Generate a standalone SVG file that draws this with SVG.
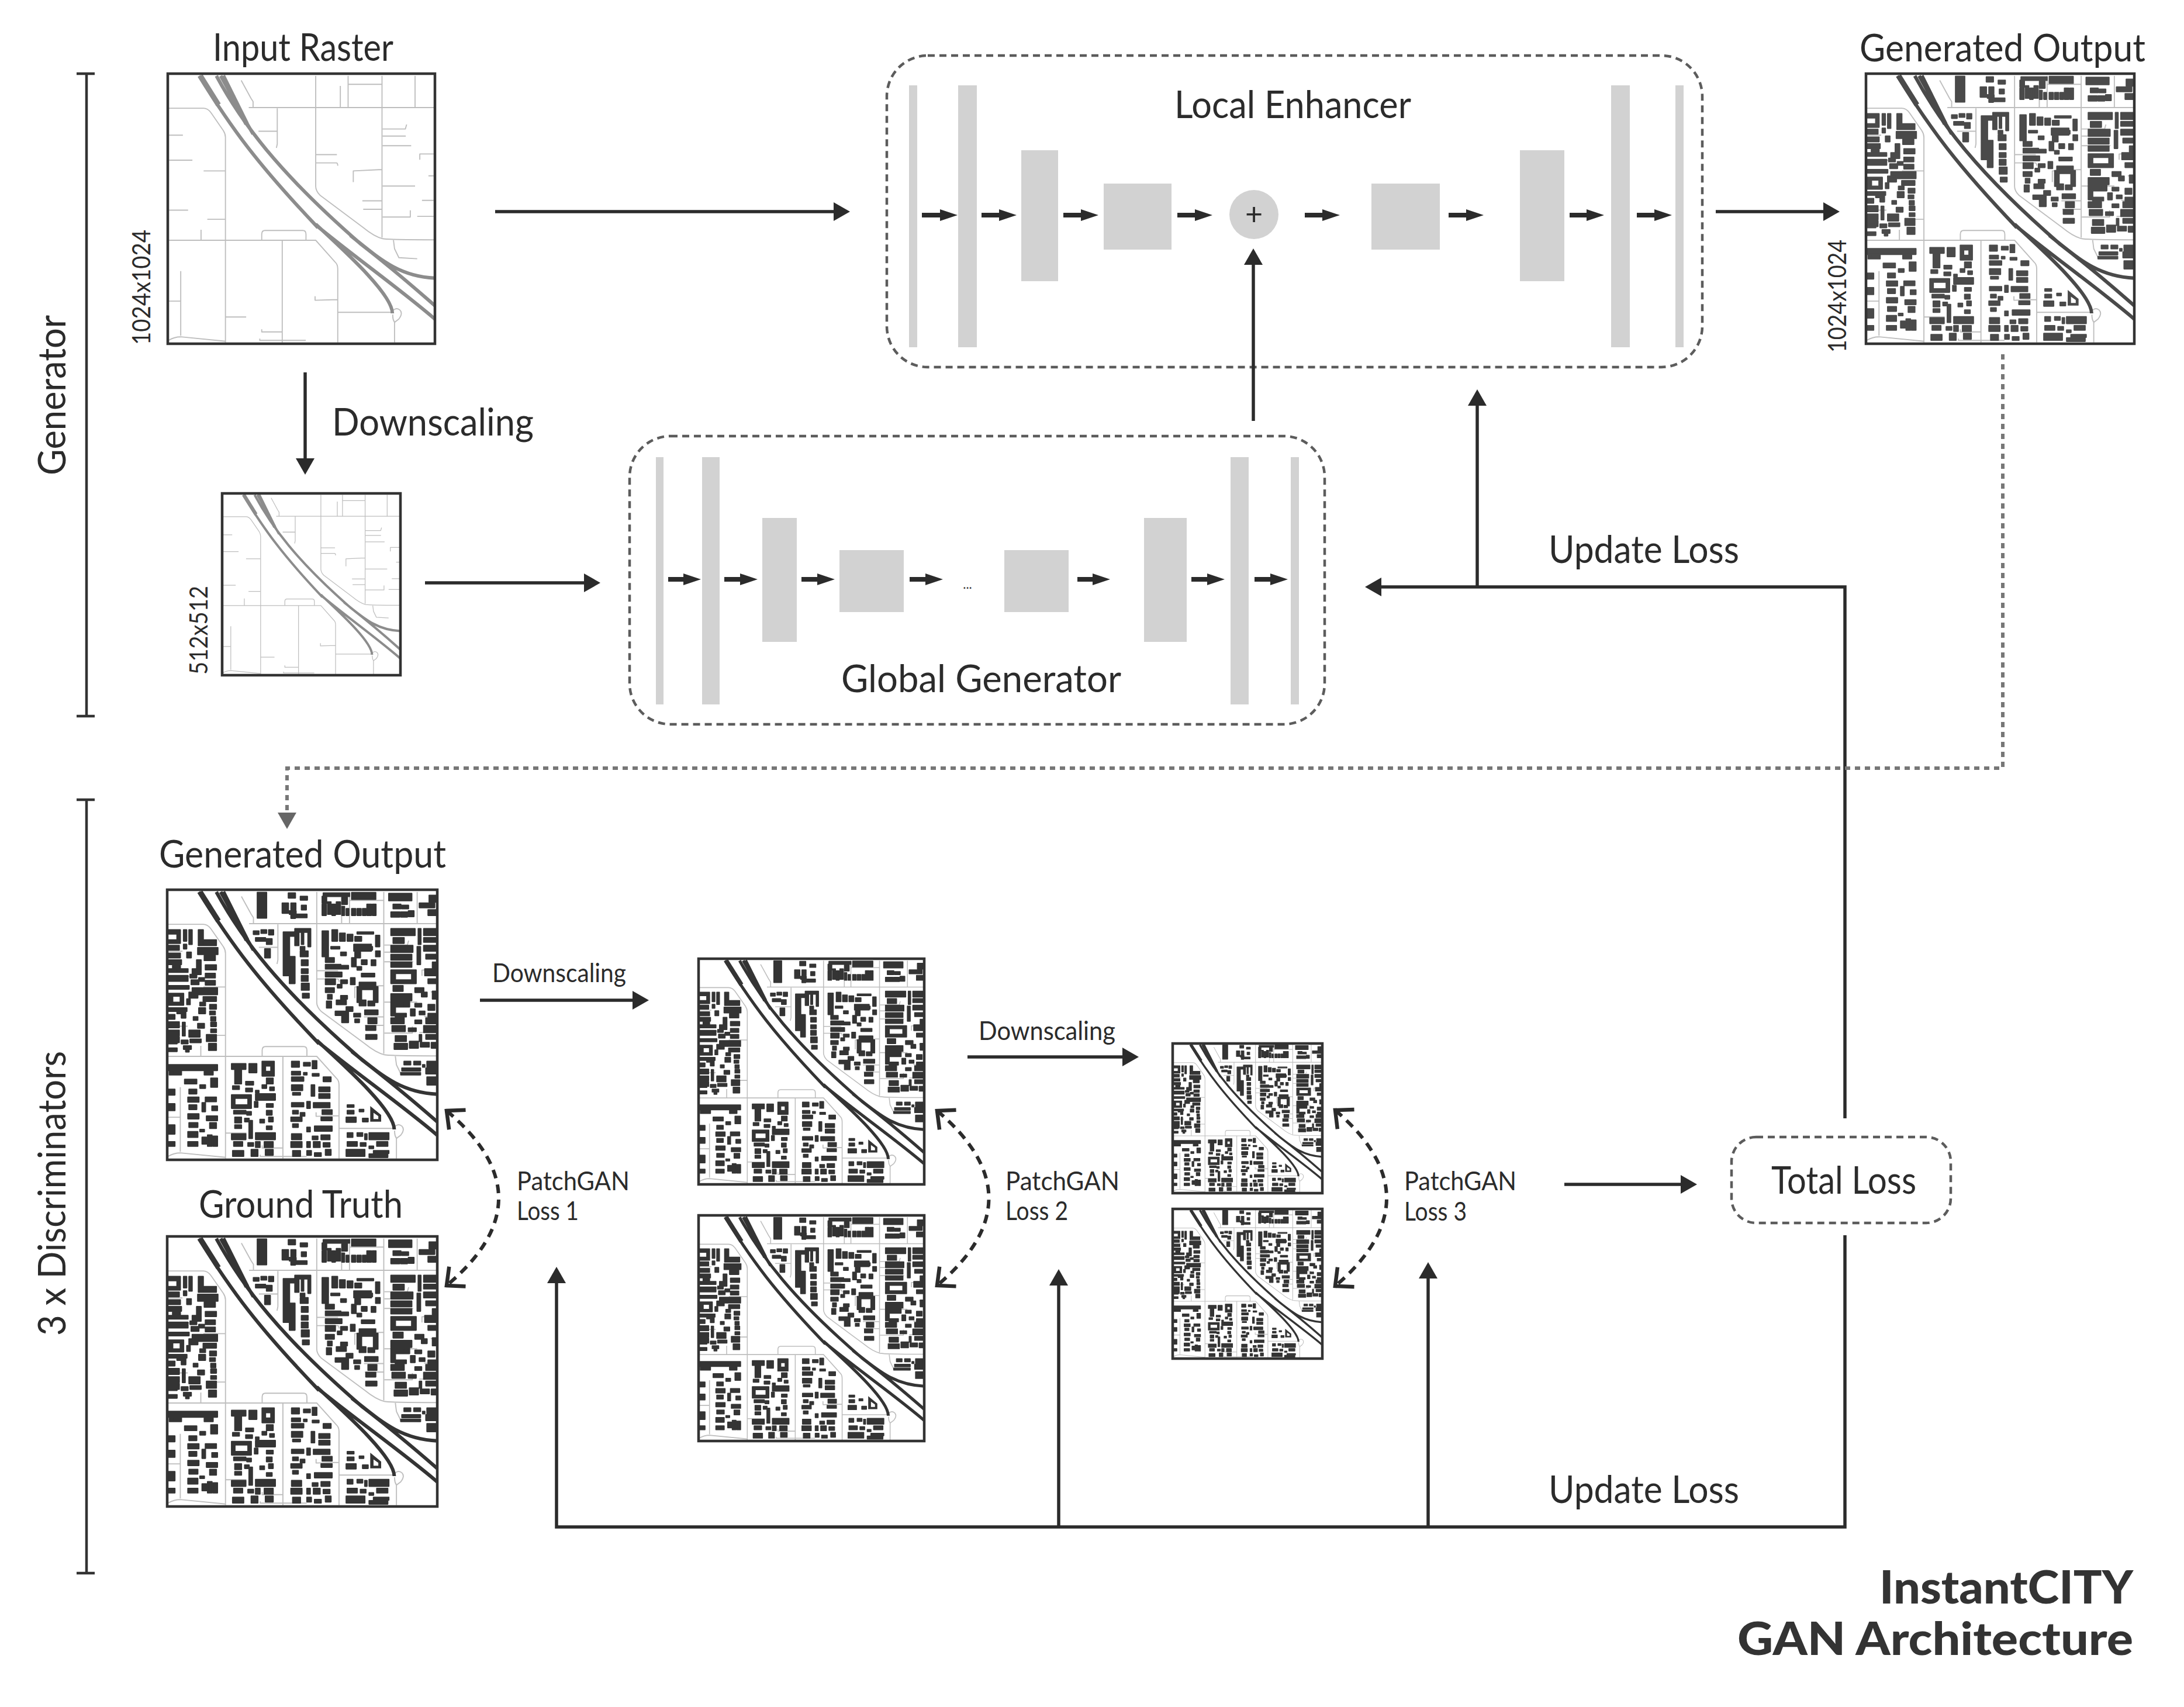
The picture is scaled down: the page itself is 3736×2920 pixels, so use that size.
<svg xmlns="http://www.w3.org/2000/svg" xmlns:xlink="http://www.w3.org/1999/xlink" width="3736" height="2920" viewBox="0 0 3736 2920">
<style>
text{font-family:"Lato","Liberation Sans",sans-serif;fill:#2b2b2b}
.t66{font-size:66px}.t42{font-size:42px}.t44{font-size:45px}
.b78{font-size:78px;font-weight:900;fill:#333}
.bar{fill:#d2d2d2}
.box{fill:none;stroke:#5c5c5c;stroke-width:4.5;stroke-dasharray:12 8}
.frame{fill:none;stroke:#333;stroke-width:4.5}
.rd{fill:none;stroke:#bebebe;stroke-width:5;stroke-linejoin:round}
.hw{fill:none;stroke:currentColor;stroke-width:16;stroke-linejoin:round}
.bd{fill:currentColor;stroke:currentColor;stroke-width:6;stroke-linejoin:round}
.sm{stroke:#2b2b2b;stroke-width:8;fill:none;marker-end:url(#mS)}
.lg{stroke:#2b2b2b;stroke-width:5.5;fill:none;marker-end:url(#mL)}
.gd{stroke:#777;stroke-width:6;stroke-dasharray:9 8;fill:none;marker-end:url(#mG)}
.cv{stroke:#2b2b2b;stroke-width:6;stroke-dasharray:15 11;fill:none;marker-start:url(#mC);marker-end:url(#mC)}
.br{stroke:#333;stroke-width:4.5;fill:none}
</style>
<defs>
<marker id="mS" markerUnits="userSpaceOnUse" viewBox="0 0 30 20" refX="15" refY="10" markerWidth="30" markerHeight="20" orient="auto"><path d="M0 0L30 10L0 20z" fill="#2b2b2b"/></marker>
<marker id="mL" markerUnits="userSpaceOnUse" viewBox="0 0 28 32" refX="14" refY="16" markerWidth="28" markerHeight="32" orient="auto"><path d="M0 0L28 16L0 32z" fill="#2b2b2b"/></marker>
<marker id="mG" markerUnits="userSpaceOnUse" viewBox="0 0 28 32" refX="14" refY="16" markerWidth="28" markerHeight="32" orient="auto"><path d="M0 0L28 16L0 32z" fill="#666"/></marker>
<marker id="mC" markerUnits="userSpaceOnUse" viewBox="-32 -32 40 64" refX="0" refY="0" markerWidth="40" markerHeight="64" orient="auto-start-reverse"><path d="M-24 -22L0 0L-24 22" fill="none" stroke="#2b2b2b" stroke-width="6.5"/></marker>
<g id="roadnet">
<path class="rd" d="M480 427H1342M445 305L490 385L500 400V427M790 285V780Q790 800 810 820L1010 965Q1060 1005 1100 1015Q1130 1020 1342 1020M940 285V427M1097 285V1010M1250 285V427M904 330V427M110 430H270Q290 430 305 450L362 530Q372 545 372 560V1480M110 1022H790L880 1120Q892 1130 892 1150V1480M540 1022V995Q540 978 555 978H730Q745 978 745 995V1022M635 1022V1480M165 1160V1450M110 1295H165M110 1470Q135 1455 165 1455L372 1475M1155 1385V1480M892 1345H1140M1150 1335Q1165 1322 1180 1335Q1195 1350 1175 1375L1155 1390Q1145 1375 1147 1355M1150 1022L1155 1060L1175 1100L1260 1105M111 551H175M111 663H219M271 711H372M111 887H199M288 928H372M259 975V1022M525 533H612M612 430V590L608 608M790 638H888M790 675H885Q892 675 892 688M964 761V711L1096 705M1006 845H1096M1010 883H1096M1100 523H1205L1211 503M1100 555H1207M1100 598H1232M1100 779H1250M1100 918H1228V888M1272 661V635H1336M1312 733H1336M1282 843H1336M1260 915H1336M940 323H1096M787 1273V1291L892 1288M372 1366H468M540 1421V1433H634M531 1463V1471H744"/>
<path class="hw" d="M250 285C400 520 520 680 800 965M790 950C900 1050 1145 1260 1145 1350M790 953C960 1090 1180 1240 1345 1378M330 285C450 500 620 720 1000 1040C1120 1130 1230 1220 1345 1318M950 1000C1080 1100 1170 1185 1345 1192M350 285C400 370 440 450 500 545"/>
<path class="hw" style="stroke-width:24" d="M256 285L340 415"/>
<path class="hw" style="stroke-width:22" d="M360 285L470 500"/>
</g>
<g id="blds">
<path class="bd" d="M518 287h42v115h-42zM660 290h32v22h-32zM715 305h32v16h-32zM632 335h28v45h-28zM672 335h22v30h-22zM720 345h22v20h-22zM665 370h30v15h-30zM695 385h50v15h-50zM672 385h20v18h-20zM815 305h20v30h-20zM815 340h18v50h-18zM840 330h15v55h-15zM860 340h15v50h-15zM880 330h18v55h-18zM905 350h12v40h-12zM925 360h12v30h-12zM950 360h18v30h-18zM975 360h18v30h-18zM1000 360h15v30h-15zM1020 340h20v50h-20zM1045 340h16v50h-16zM950 288h110v30h-110zM820 290h120v15h-120zM905 310h25v30h-25zM1120 292h105v32h-105zM1140 340h35v20h-35zM1130 375h40v22h-40zM1175 375h30v22h-30zM1210 370h25v25h-25zM1180 345h30v15h-30zM1260 335h70v20h-70zM1305 300h35v30h-35zM1300 365h40v25h-40z"/>
<path class="bd" d="M110 455h55v18h-55zM150 455h15v60h-15zM110 500h55v15h-55zM180 455h14v50h-14zM205 455h14v65h-14zM248 455h22v70h-22zM270 500h60v25h-60zM245 535h92v30h-92zM110 525h50v20h-50zM180 520h14v20h-14zM110 560h55v20h-55zM195 555h20v25h-20zM275 570h50v22h-50zM110 590h60v20h-60zM130 615h35v15h-35zM280 612h50v22h-50zM110 630h40v15h-40zM150 630h50v15h-50zM240 590h20v40h-20zM220 630h40v25h-40zM280 650h45v20h-45zM110 660h90v25h-90zM210 655h30v15h-30zM250 670h25v15h-25zM280 682h45v20h-45zM110 705h95v15h-95zM215 680h35v20h-35zM220 715h115v30h-115zM205 735h40v25h-40zM110 740h70v12h-70zM110 780h70v12h-70zM165 740h15v50h-15zM110 752h20v30h-20zM270 755h60v20h-60zM195 765h15v25h-15zM255 780h25v15h-25zM300 790h30v20h-30zM110 805h85v15h-85zM150 820h40v10h-40zM250 805h30v25h-30zM300 820h25v15h-25zM110 835h30v20h-30zM170 825h20v25h-20zM225 845h20v15h-20zM305 845h22v18h-22zM110 868h50v25h-50zM110 905h50v25h-50zM110 935h50v25h-50zM175 870h12v60h-12zM245 875h30v20h-30zM305 870h25v18h-25zM205 905h50v30h-50zM305 900h25v15h-25zM285 925h45v30h-45zM110 950h40v15h-40zM170 950h30v15h-30zM210 945h50v15h-50zM110 985h40v15h-40zM180 975h35v15h-35zM295 965h35v30h-35zM190 990h15v12h-15z"/>
<path class="bd" d="M110 1060h225v25h-225zM130 1085h40v20h-40zM115 1085h15v20h-15zM185 1125h55v20h-55zM275 1090h40v15h-40zM305 1120h30v40h-30zM255 1150h25v15h-25zM205 1170h35v20h-35zM110 1170h30v25h-30zM200 1205h50v22h-50zM280 1205h50v20h-50zM110 1235h30v30h-30zM205 1240h35v20h-35zM265 1230h15v40h-15zM310 1245h25v20h-25zM200 1280h50v22h-50zM285 1290h50v20h-50zM205 1320h40v20h-40zM300 1320h30v25h-30zM110 1330h30v40h-30zM255 1350h20v10h-20zM200 1360h45v25h-45zM290 1375h20v50h-20zM315 1380h20v45h-20zM110 1405h30v20h-30zM200 1405h45v20h-45zM265 1385h20v30h-20z"/>
<path class="bd" d="M400 1055h65v25h-65zM415 1080h30v65h-30zM480 1055h35v40h-35zM540 1045h55v20h-55zM540 1090h55v20h-55zM540 1065h15v25h-15zM580 1065h15v25h-15zM405 1155h30v15h-30zM465 1135h35v15h-35zM465 1165h30v15h-30zM510 1175h15v10h-15zM560 1120h30v25h-30zM540 1150h20v15h-20zM575 1160h20v15h-20zM400 1195h90v15h-90zM400 1240h90v15h-90zM400 1210h15v30h-15zM475 1210h15v30h-15zM510 1190h90v28h-90zM505 1225h15v25h-15zM560 1235h30v15h-30zM410 1265h55v15h-55zM470 1270h20v15h-20zM560 1265h25v20h-25zM415 1295h30v25h-30zM460 1300h20v15h-20zM480 1310h15v40h-15zM570 1295h20v20h-20zM530 1305h20v15h-20zM415 1330h30v15h-30zM480 1350h15v40h-15zM560 1335h25v15h-25zM400 1370h65v25h-65zM510 1365h90v30h-90zM410 1405h40v20h-40zM475 1410h25v15h-25zM510 1405h20v25h-20zM550 1405h40v25h-40zM405 1445h50v25h-50zM490 1440h30v30h-30zM555 1440h35v25h-35z"/>
<path class="bd" d="M675 1045h35v25h-35zM730 1050h30v15h-30zM770 1042h20v35h-20zM675 1090h40v15h-40zM730 1095h15v10h-15zM770 1100h30v10h-30zM820 1115h35v20h-35zM675 1115h55v18h-55zM675 1150h50v25h-50zM765 1150h15v50h-15zM800 1160h50v20h-50zM680 1185h35v10h-35zM800 1190h50v20h-50zM675 1230h55v18h-55zM745 1225h15v30h-15zM775 1230h75v22h-75zM680 1265h25v15h-25zM715 1275h20v15h-20zM815 1262h45v20h-45zM672 1295h50v18h-50zM810 1295h50v15h-50zM680 1325h25v15h-25zM780 1335h80v22h-80zM745 1340h15v20h-15zM675 1370h45v25h-45zM770 1380h25v15h-25zM810 1375h40v20h-40zM672 1405h50v25h-50zM745 1405h15v25h-15zM775 1405h30v25h-30zM820 1410h30v18h-30zM680 1445h35v25h-35zM745 1445h20v20h-20zM780 1455h30v15h-30zM830 1440h25v25h-25z"/>
<path class="bd" d="M930 1240h30v10h-30zM930 1265h30v15h-30zM925 1295h45v22h-45zM985 1260h20v10h-20zM1000 1300h25v15h-25zM930 1365h25v20h-25zM975 1365h25v15h-25zM1030 1365h90v30h-90zM1010 1370h10v25h-10zM930 1405h45v20h-45zM990 1410h25v15h-25zM1065 1405h50v20h-50zM925 1440h85v30h-85zM1030 1425h20v10h-20zM1050 1445h70v12h-70zM1030 1460h85v15h-85z"/>
<path style="fill:currentColor;fill-rule:evenodd" d="M1035 1245L1085 1285V1315H1035zM1050 1275V1303H1072V1290z"/>
<path class="bd" d="M500 460h25v15h-25zM535 455h25v15h-25zM570 455h22v22h-22zM510 490h45v15h-45zM560 495h25v25h-25zM552 540h25v40h-25zM637 465h50v18h-50zM637 480h28v100h-28zM637 580h25v80h-25zM665 575h25v120h-25zM690 450h18v75h-18zM710 450h50v15h-50zM720 465h10v55h-10zM750 450h12v80h-12zM715 530h20v15h-20zM715 550h35v25h-35zM720 590h30v25h-30zM720 630h30v20h-30zM720 660h30v25h-30zM720 695h35v30h-35zM725 740h30v20h-30z"/>
<path class="bd" d="M815 460h28v115h-28zM860 455h25v50h-25zM895 470h25v35h-25zM930 475h25v30h-25zM965 485h30v20h-30zM975 465h75v8h-75zM1060 480h18v50h-18zM855 530h40v10h-40zM900 555h25v15h-25zM960 520h80v30h-80zM965 555h25v25h-25zM1000 530h45v15h-45zM1060 550h20v25h-20zM830 580h40v20h-40zM950 580h20v40h-20zM995 590h25v20h-25zM1040 590h20v25h-20zM830 610h70v20h-70zM900 615h35v15h-35zM975 620h20v15h-20zM830 645h75v20h-75zM830 675h45v25h-45zM900 680h30v15h-30zM945 670h20v30h-20zM995 650h60v15h-60zM985 690h75v20h-75zM830 715h40v20h-40zM885 700h20v15h-20zM980 710h80v12h-80zM975 710h20v70h-20zM1050 710h20v70h-20zM840 745h20v20h-20zM835 775h22v30h-22zM880 770h45v20h-45zM900 750h30v15h-30zM925 800h30v20h-30zM985 770h30v25h-30zM1025 775h30v20h-30zM875 820h60v18h-60zM905 835h30v35h-30zM960 830h30v15h-30zM1010 815h60v20h-60zM1025 850h40v25h-40zM965 855h20v15h-20zM1015 885h45v20h-45zM1015 925h50v20h-50z"/>
<path class="bd" d="M1130 450h110v30h-110zM1280 450h60v30h-60zM1255 450h12v70h-12zM1140 490h50v25h-50zM1280 490h60v20h-60zM1130 525h100v30h-100zM1280 525h60v25h-60zM1130 565h95v25h-95zM1250 530h15v80h-15zM1130 600h95v22h-95zM1290 565h45v20h-45zM1320 600h20v25h-20zM1130 635h115v15h-115zM1130 680h115v15h-115zM1130 650h20v30h-20zM1225 650h20v30h-20zM1285 630h55v30h-55zM1300 675h40v20h-40zM1140 705h45v25h-45zM1240 715h40v20h-40zM1130 742h95v30h-95zM1130 775h85v25h-85zM1270 735h25v20h-25zM1320 730h20v35h-20zM1130 800h20v40h-20zM1150 830h50v15h-50zM1190 780h20v15h-20zM1240 785h30v15h-30zM1300 790h30v25h-30zM1220 810h20v30h-20zM1260 820h25v15h-25zM1300 830h35v15h-35zM1130 850h60v25h-60zM1290 850h50v25h-50zM1135 885h60v25h-60zM1240 860h30v15h-30zM1280 885h60v30h-60zM1210 895h35v15h-35zM1150 930h50v25h-50zM1260 925h10v30h-10zM1290 925h50v20h-50zM1145 965h60v25h-60zM1215 955h40v30h-40zM1265 960h40v20h-40zM1315 960h25v25h-25zM1190 1045h30v15h-30zM1235 1045h30v15h-30zM1180 1075h85v12h-85zM1175 1095h90v10h-90zM1295 1045h45v25h-45zM1290 1075h50v25h-50zM1295 1115h45v35h-45zM1275 1060h10v10h-10z"/>
</g>
<symbol id="mapIn" viewBox="105 275 1237 1211" preserveAspectRatio="none"><use href="#roadnet"/></symbol>
<symbol id="mapOut" viewBox="105 275 1237 1211" preserveAspectRatio="none"><use href="#roadnet"/><use href="#blds"/></symbol>
</defs>
<rect width="3736" height="2920" fill="#fff"/>

<g id="bracket-generator"><path class="br" d="M131 126H148V1225H131M148 126H162M148 1225H162"/><text class="t66" transform="translate(112 813) rotate(-90)" textLength="274" lengthAdjust="spacingAndGlyphs">Generator</text></g>
<g id="bracket-discriminators"><path class="br" d="M131 1368H148V2691H131M148 1368H162M148 2691H162"/><text class="t66" transform="translate(112 2285) rotate(-90)" textLength="487" lengthAdjust="spacingAndGlyphs">3 x Discriminators</text></g>

<g id="input-raster">
<text class="t66" x="364" y="104" textLength="309" lengthAdjust="spacingAndGlyphs">Input Raster</text>
<use href="#mapIn" x="287" y="126" width="457" height="462" color="#8c8c8c"/><rect class="frame" x="287" y="126" width="457" height="462"/>
<text class="t42" transform="translate(257 590) rotate(-90)" textLength="197" lengthAdjust="spacingAndGlyphs">1024x1024</text>
</g>
<g id="downscaled-input">
<use href="#mapIn" x="380" y="844" width="305" height="311" color="#8c8c8c"/><rect class="frame" x="380" y="844" width="305" height="311"/>
<text class="t42" transform="translate(355 1154) rotate(-90)" textLength="152" lengthAdjust="spacingAndGlyphs">512x512</text>
</g>
<g id="label-downscaling"><text class="t66" x="568" y="745" textLength="345" lengthAdjust="spacingAndGlyphs">Downscaling</text></g>

<g id="generated-output-top">
<text class="t66" x="3181" y="105" textLength="489" lengthAdjust="spacingAndGlyphs">Generated Output</text>
<use href="#mapOut" x="3192" y="126" width="459" height="462" color="#4a4a4a"/><rect class="frame" x="3192" y="126" width="459" height="462"/>
<text class="t42" transform="translate(3158 603) rotate(-90)" textLength="193" lengthAdjust="spacingAndGlyphs">1024x1024</text>
</g>

<g id="local-enhancer">
<rect class="box" x="1517" y="95" width="1395" height="533" rx="70"/>
<rect class="bar" x="1555" y="146" width="14" height="448"/><rect class="bar" x="1639" y="146" width="32" height="448"/>
<rect class="bar" x="1747" y="257" width="63" height="224"/><rect class="bar" x="1888" y="314" width="116" height="113"/>
<circle class="bar" cx="2145" cy="367" r="42"/>
<text x="2145" y="385" font-size="52" text-anchor="middle">+</text>
<rect class="bar" x="2346" y="314" width="117" height="113"/><rect class="bar" x="2600" y="257" width="76" height="224"/>
<rect class="bar" x="2756" y="146" width="32" height="448"/><rect class="bar" x="2866" y="146" width="14" height="448"/>
<text class="t66" x="2009" y="202" textLength="405" lengthAdjust="spacingAndGlyphs">Local Enhancer</text>
<path class="sm" d="M1577 368H1623"/><path class="sm" d="M1679 368H1724"/><path class="sm" d="M1819 368H1864"/><path class="sm" d="M2014 368H2059"/><path class="sm" d="M2232 368H2277"/><path class="sm" d="M2478 368H2523"/><path class="sm" d="M2685 368H2729"/><path class="sm" d="M2800 368H2845"/>
</g>

<g id="global-generator">
<rect class="box" x="1077" y="746" width="1189" height="493" rx="70"/>
<rect class="bar" x="1122" y="782" width="13" height="423"/><rect class="bar" x="1201" y="782" width="30" height="423"/>
<rect class="bar" x="1304" y="886" width="59" height="212"/><rect class="bar" x="1436" y="941" width="110" height="106"/>
<rect class="bar" x="1718" y="941" width="110" height="106"/><rect class="bar" x="1957" y="886" width="73" height="212"/>
<rect class="bar" x="2105" y="782" width="31" height="423"/><rect class="bar" x="2208" y="782" width="14" height="423"/>
<text x="1655" y="1007" font-size="22" text-anchor="middle">...</text>
<text class="t66" x="1439" y="1184" textLength="479" lengthAdjust="spacingAndGlyphs">Global Generator</text>
<path class="sm" d="M1143 991H1184"/><path class="sm" d="M1239 991H1281"/><path class="sm" d="M1371 991H1413"/><path class="sm" d="M1556 991H1598"/><path class="sm" d="M1843 991H1884"/><path class="sm" d="M2038 991H2080"/><path class="sm" d="M2146 991H2188"/>
</g>

<g id="generated-output-d1">
<text class="t66" x="272" y="1484" textLength="491" lengthAdjust="spacingAndGlyphs">Generated Output</text>
<use href="#mapOut" x="286" y="1522" width="462" height="462" color="#343434"/><rect class="frame" x="286" y="1522" width="462" height="462"/>
</g>
<g id="ground-truth-d1">
<text class="t66" x="340" y="2083" textLength="349" lengthAdjust="spacingAndGlyphs">Ground Truth</text>
<use href="#mapOut" x="286" y="2115" width="462" height="462" color="#343434"/><rect class="frame" x="286" y="2115" width="462" height="462"/>
</g>
<g id="generated-output-d2"><use href="#mapOut" x="1195" y="1640" width="386" height="386" color="#343434"/><rect class="frame" x="1195" y="1640" width="386" height="386"/></g>
<g id="ground-truth-d2"><use href="#mapOut" x="1195" y="2079" width="386" height="386" color="#343434"/><rect class="frame" x="1195" y="2079" width="386" height="386"/></g>
<g id="generated-output-d3"><use href="#mapOut" x="2006" y="1785" width="256" height="256" color="#343434"/><rect class="frame" x="2006" y="1785" width="256" height="256"/></g>
<g id="ground-truth-d3"><use href="#mapOut" x="2006" y="2068" width="256" height="256" color="#343434"/><rect class="frame" x="2006" y="2068" width="256" height="256"/></g>

<g id="patchgan-1"><text class="t44" x="884" y="2036" textLength="193" lengthAdjust="spacingAndGlyphs">PatchGAN</text><text class="t44" x="884" y="2087" textLength="106" lengthAdjust="spacingAndGlyphs">Loss 1</text></g>
<g id="patchgan-2"><text class="t44" x="1720" y="2036" textLength="195" lengthAdjust="spacingAndGlyphs">PatchGAN</text><text class="t44" x="1720" y="2087" textLength="107" lengthAdjust="spacingAndGlyphs">Loss 2</text></g>
<g id="patchgan-3"><text class="t44" x="2402" y="2036" textLength="192" lengthAdjust="spacingAndGlyphs">PatchGAN</text><text class="t44" x="2402" y="2088" textLength="107" lengthAdjust="spacingAndGlyphs">Loss 3</text></g>

<g id="total-loss"><rect class="box" x="2962" y="1945" width="375" height="147" rx="42"/><text class="t66" x="3030" y="2042" textLength="248" lengthAdjust="spacingAndGlyphs">Total Loss</text></g>

<g id="labels">
<text class="t44" x="842" y="1680" textLength="229" lengthAdjust="spacingAndGlyphs">Downscaling</text>
<text class="t44" x="1674" y="1779" textLength="234" lengthAdjust="spacingAndGlyphs">Downscaling</text>
<text class="t66" x="2649" y="963" textLength="326" lengthAdjust="spacingAndGlyphs">Update Loss</text>
<text class="t66" x="2649" y="2571" textLength="326" lengthAdjust="spacingAndGlyphs">Update Loss</text>
<text class="b78" x="3649" y="2743" text-anchor="end" textLength="434" lengthAdjust="spacingAndGlyphs">InstantCITY</text>
<text class="b78" x="2972" y="2831" textLength="677" lengthAdjust="spacingAndGlyphs">GAN Architecture</text>
</g>

<g id="connectors">
<path class="lg" d="M847 362H1440"/>
<path class="lg" d="M2935 362H3133"/>
<path class="lg" d="M522 637V798"/>
<path class="lg" d="M727 997H1013"/>
<path class="lg" d="M2144 720V439"/>
<path class="lg" d="M3156 1913V1004H2349"/>
<path class="lg" d="M2527 1004V680"/>
<path class="gd" d="M3426 606V1314H491V1404"/>
<path class="lg" d="M821 1711H1096"/>
<path class="lg" d="M1655 1808H1934"/>
<path class="lg" d="M2676 2026H2889"/>
<path class="lg" d="M3156 2113V2612H952V2181"/>
<path class="lg" d="M1811 2612V2185"/>
<path class="lg" d="M2443 2612V2173"/>
<path class="cv" d="M764 1900Q942 2050 764 2199"/>
<path class="cv" d="M1603 1900Q1780 2050 1603 2199"/>
<path class="cv" d="M2284 1899Q2460 2050 2284 2200"/>
</g>
</svg>
